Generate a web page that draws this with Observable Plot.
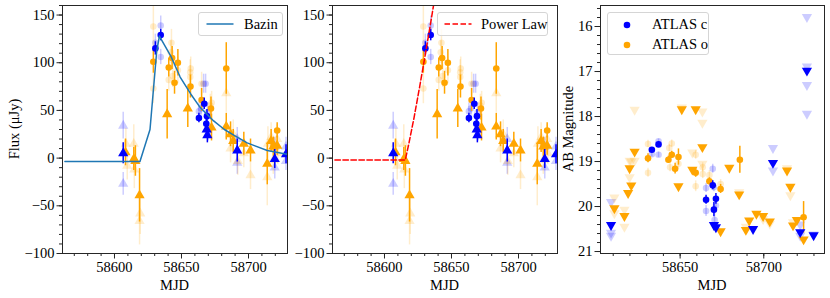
<!DOCTYPE html>
<html><head><meta charset="utf-8">
<script src="https://cdn.jsdelivr.net/npm/d3@7"></script>
<script src="https://cdn.jsdelivr.net/npm/@observablehq/plot@0.6"></script>
<style>
html,body{margin:0;padding:0;background:#fff;overflow:hidden}
#fig{position:relative;width:830px;height:298px;font-family:"Liberation Serif","Times New Roman",serif;font-size:14.5px;color:#000}
#fig .panel{position:absolute;top:0}
.legend{position:absolute;border:1px solid #d5d5d5;border-radius:3px;background:rgba(255,255,255,0.8);box-sizing:border-box}
.lab{position:absolute;white-space:nowrap;line-height:1}
.lt{position:absolute;white-space:nowrap;line-height:1}
</style></head><body><div id="fig"></div>
<script>
// ---------- Flux panels data: [MJD, flux (uJy), error] ----------
const fluxCDet = [[58630.5,115,7],[58634.5,129,6],[58663.0,42,5],[58667.0,57,6],[58668.5,36,8],[58669.0,44,7]];
const fluxCLim = [[58606.5,5,11],[58668.8,30,8],[58669.3,24,8],[58691.6,8,12],[58719.6,-1,10],[58728.0,4,10]];
const fluxCFaintDet = [[58634.5,139,10],[58634.5,106,8],[58630.5,121,9],[58666.5,78,10],[58668.0,78,10],[58663.0,49,9],[58664.5,52,8],[58669.5,48,10],[58670.0,28,10]];
const fluxCFaintLim = [[58606.5,34,14],[58606.5,-27,12],[58691.6,-5,12],[58691.6,20,12],[58719.6,-10,12],[58719.6,12,10],[58728.0,-3,10],[58728.0,12,10]];
const fluxODet = [[58629.0,101,12],[58640.5,95,10],[58643.0,105,12],[58644.8,79,12],[58647.3,100,14],[58656.7,75,12],[58665.0,61,12],[58672.0,52,12],[58683.4,94,27],[58721.4,29,8]];
const fluxOLim = [[58608.2,6,14],[58614.4,-1,12],[58615.6,-3,16],[58618.7,-39,28],[58639.3,46,26],[58654.7,52,20],[58672.4,32,14],[58683.4,33,14],[58686.6,25,13],[58688.6,18,12],[58696.5,15,12],[58701.5,8,12],[58714.0,-6,22],[58716.9,18,12],[58718.5,12,10],[58721.4,13,10]];
const fluxOFaintDet = [[58629.0,138,22],[58629.0,73,16],[58642.5,121,14],[58642.0,111,12],[58643.5,86,12],[58640.5,82,12],[58647.3,92,14],[58656.5,90,13],[58656.5,85,12],[58656.9,94,12],[58665.0,78,12],[58671.5,55,12],[58672.5,58,12]];
const fluxOFaintLim = [[58608.5,15,16],[58609.5,-8,15],[58614.4,15,20],[58614.8,-12,20],[58618.7,-66,25],[58619.2,-58,22],[58683.4,68,20],[58686.6,10,15],[58688.6,25,15],[58692.0,-3,15],[58696.5,5,15],[58701.5,-18,15],[58714.0,-20,30],[58714.5,15,18],[58716.9,22,15],[58718.5,-2,15],[58721.4,20,15],[58721.9,5,12]];

// ---------- Model curves ----------
const bazinMJD  = [58563,58619,58626.5,58631.5,58633.5,58642,58649,58657,58664,58674,58682,58689,58699,58714,58729];
const bazinFlux = [-3.5,-3.5,30,112,128,107,85,67,53,39,30,24,16,8,4];
const powerMJD  = [58563,58615.5,58618,58622,58626,58630,58634,58638];
const powerFlux = [-2,-2,14,42,73,105,138,172];

// ---------- Magnitude panel data: [MJD, mag, error] / [MJD, limit] ----------
const magCDet = [[58633.1,18.74,0.05],[58637.1,18.62,0.05],[58665.5,19.85,0.1],[58669.5,19.53,0.1],[58671.4,19.83,0.12],[58670.2,20.07,0.16]];
const magCLim = [[58608.7,20.41],[58670.2,20.41],[58671.4,20.46],[58693.6,20.5],[58705.5,19.03],[58721.8,20.57],[58725.8,16.98],[58729.8,20.64]];
const magCFaintDet = [[58633.1,18.84,0.06],[58637.1,18.55,0.05],[58637.1,18.85,0.06],[58665.5,19.59,0.1],[58665.5,20.1,0.12],[58669.5,19.16,0.1],[58670.2,19.57,0.1],[58671.4,19.98,0.12],[58670.6,20.3,0.15]];
const magCFaintLim = [[58608.7,19.9],[58608.7,20.58],[58608.7,20.65],[58705.5,18.7],[58705.5,19.2],[58725.8,15.79],[58725.8,16.89],[58725.8,17.3],[58725.8,17.94],[58721.8,20.4],[58721.8,20.65],[58729.8,20.62]];
const magODet = [[58630.8,18.93,0.1],[58643.0,18.96,0.08],[58645.0,18.85,0.08],[58647.0,19.16,0.12],[58649.0,18.9,0.18],[58659.3,19.25,0.1],[58667.5,19.44,0.08],[58674.2,19.61,0.1],[58685.7,18.96,0.3],[58723.8,20.24,0.35]];
const magOLim = [[58610.7,20.04],[58616.7,20.21],[58618.9,19.7],[58619.8,19.15],[58620.8,19.53],[58622.8,18.78],[58649.0,19.55],[58651.0,17.84],[58657.3,19.18],[58659.3,17.84],[58663.3,18.68],[58674.2,20.55],[58679.4,19.14],[58685.3,19.73],[58689.3,20.52],[58691.3,20.31],[58695.6,20.16],[58699.6,20.21],[58703.6,20.33],[58713.9,19.2],[58715.9,19.56],[58717.5,20.42],[58719.8,20.3],[58723.8,20.73]];
const magOFaintDet = [[58630.8,18.61,0.08],[58630.8,19.25,0.1],[58643.5,18.7,0.08],[58645.0,18.6,0.08],[58644.0,19.13,0.1],[58649.0,19.05,0.12],[58659.3,18.85,0.1],[58659.3,19.55,0.12],[58663.5,19.13,0.1],[58663.5,19.28,0.1],[58667.5,19.3,0.1],[58674.2,19.5,0.1]];
const magOFaintLim = [[58610.7,19.8],[58610.7,20.15],[58616.7,20.07],[58616.7,20.45],[58619.8,18.98],[58619.8,19.35],[58620.8,19.0],[58622.8,17.85],[58622.8,18.98],[58651.0,17.8],[58657.3,18.8],[58663.3,17.89],[58663.3,18.14],[58663.3,19.05],[58685.3,19.68],[58689.3,20.45],[58699.6,20.28],[58703.6,20.38],[58713.9,19.15],[58715.9,19.75],[58717.5,20.35]];

// ---------- Axis ticks ----------
const fluxXMajor = [58600,58650,58700];
const fluxXMinor = d3.range(58570,58730,10);
const fluxYMajor = [-100,-50,0,50,100,150];
const fluxYMinor = d3.range(-100,161,10);
const magXMajor = [58650,58700];
const magXMinor = d3.range(58610,58740,10);
const magYMajor = [16,17,18,19,20,21];
const magYMinor = d3.range(15.6,21.01,0.2).map(v => +v.toFixed(1));

const BLUE = "blue", ORANGE = "orange", FADE = 0.2;
const RC = 3.3, RT = 3.8;
const fmt = d => d < 0 ? "\u2212" + Math.abs(d) : String(d);
const X = d => d[0], Y = d => d[1];

function errDots(data, color, op, symbol, r, rotate) {
  return [
    Plot.ruleX(data, {x: X, y1: d => d[1]-d[2], y2: d => d[1]+d[2], stroke: color, strokeOpacity: op, strokeWidth: 1.5, clip: true}),
    Plot.dot(data, {x: X, y: Y, fill: color, fillOpacity: op, stroke: "none", symbol, r, rotate, clip: true})
  ];
}
function dots(data, color, op, symbol, r, rotate) {
  return Plot.dot(data, {x: X, y: Y, fill: color, fillOpacity: op, stroke: "none", symbol, r, rotate, clip: true});
}

function panel({left, width, ml, mr, xdom, ydom, xMajor, xMinor, yMajor, yMinor, marks}) {
  const svg = Plot.plot({
    width, height: 298, marginLeft: ml, marginRight: mr, marginTop: 5, marginBottom: 45,
    x: {domain: xdom}, y: {domain: ydom},
    style: {fontFamily: '"Liberation Serif","Times New Roman",serif', fontSize: "14.5px", background: "transparent", color: "#000", overflow: "visible"},
    marks: [
      ...marks,
      Plot.frame({stroke: "#262626", strokeWidth: 1}),
      Plot.axisX({ticks: xMinor, tickSize: 3, tickFormat: () => "", label: null, stroke: "#262626"}),
      Plot.axisX({ticks: xMajor, tickSize: 5.5, tickPadding: 2.5, tickFormat: d => String(d), label: null, stroke: "#262626", fill: "#000"}),
      Plot.axisY({ticks: yMinor, tickSize: 3, tickFormat: () => "", label: null, stroke: "#262626"}),
      Plot.axisY({ticks: yMajor, tickSize: 5.5, tickPadding: 2.5, tickFormat: fmt, label: null, stroke: "#262626", fill: "#000"})
    ]
  });
  svg.classList.add("panel");
  svg.style.left = left + "px";
  return svg;
}

function fluxMarks() {
  return [
    ...errDots(fluxCFaintDet, BLUE, FADE, "circle", RC),
    ...errDots(fluxCFaintLim, BLUE, FADE, "triangle", RT),
    ...errDots(fluxOFaintDet, ORANGE, FADE, "circle", RC),
    ...errDots(fluxOFaintLim, ORANGE, FADE, "triangle", RT),
    ...errDots(fluxODet, ORANGE, 1, "circle", RC),
    ...errDots(fluxOLim, ORANGE, 1, "triangle", RT),
    ...errDots(fluxCDet, BLUE, 1, "circle", RC),
    ...errDots(fluxCLim, BLUE, 1, "triangle", RT)
  ];
}

const fig = document.getElementById("fig");
const fluxXDom = [58561.2, 58729.1];
const fluxYDom = [-100, 160];

fig.appendChild(panel({
  left: 0, width: 290, ml: 62, mr: 3, xdom: fluxXDom, ydom: fluxYDom,
  xMajor: fluxXMajor, xMinor: fluxXMinor, yMajor: fluxYMajor, yMinor: fluxYMinor,
  marks: [
    ...fluxMarks(),
    Plot.line(bazinMJD.map((m, i) => [m, bazinFlux[i]]), {x: X, y: Y, stroke: "#1f77b4", strokeWidth: 1.5, clip: true})
  ]
}));

fig.appendChild(panel({
  left: 290, width: 270, ml: 42, mr: 3, xdom: fluxXDom, ydom: fluxYDom,
  xMajor: fluxXMajor, xMinor: fluxXMinor, yMajor: fluxYMajor, yMinor: fluxYMinor,
  marks: [
    ...fluxMarks(),
    Plot.line(powerMJD.map((m, i) => [m, powerFlux[i]]), {x: X, y: Y, stroke: "red", strokeWidth: 1.5, strokeDasharray: "5.5,2.5", clip: true})
  ]
}));

fig.appendChild(panel({
  left: 560, width: 270, ml: 40, mr: 6, xdom: [58602.4, 58736.3], ydom: [21.044, 15.533],
  xMajor: magXMajor, xMinor: magXMinor, yMajor: magYMajor, yMinor: magYMinor,
  marks: [
    ...errDots(magCFaintDet, BLUE, FADE, "circle", RC),
    dots(magCFaintLim, BLUE, FADE, "triangle", RT, 180),
    ...errDots(magOFaintDet, ORANGE, FADE, "circle", RC),
    dots(magOFaintLim, ORANGE, FADE, "triangle", RT, 180),
    ...errDots(magODet, ORANGE, 1, "circle", RC),
    dots(magOLim, ORANGE, 1, "triangle", RT, 180),
    ...errDots(magCDet, BLUE, 1, "circle", RC),
    dots(magCLim, BLUE, 1, "triangle", RT, 180)
  ]
}));

// ---------- Labels ----------
function addLabel(text, x, y, rotate) {
  const d = document.createElement("div");
  d.className = "lab";
  d.textContent = text;
  d.style.left = x + "px";
  d.style.top = y + "px";
  d.style.transform = "translate(-50%,-50%)" + (rotate ? " rotate(-90deg)" : "");
  fig.appendChild(d);
}
addLabel("MJD", 174.5, 285, false);
addLabel("MJD", 444.5, 285, false);
addLabel("MJD", 712, 285, false);
addLabel("Flux (\u03bcJy)", 13.5, 129, true);
addLabel("AB Magnitude", 567.5, 129, true);

// ---------- Legends ----------
function legend(left, top, w, h, items) {
  const box = document.createElement("div");
  box.className = "legend";
  Object.assign(box.style, {left: left + "px", top: top + "px", width: w + "px", height: h + "px"});
  items.forEach(it => {
    const s = document.createElementNS("http://www.w3.org/2000/svg", "svg");
    s.setAttribute("width", 30); s.setAttribute("height", 10);
    Object.assign(s.style, {position: "absolute", left: (it.sx - 15) + "px", top: (it.y - 5) + "px"});
    if (it.kind === "line") {
      const l = document.createElementNS("http://www.w3.org/2000/svg", "line");
      l.setAttribute("x1", 15 - it.half); l.setAttribute("x2", 15 + it.half);
      l.setAttribute("y1", 5); l.setAttribute("y2", 5);
      l.setAttribute("stroke", it.color); l.setAttribute("stroke-width", 1.5);
      if (it.dash) l.setAttribute("stroke-dasharray", it.dash);
      s.appendChild(l);
    } else {
      const c = document.createElementNS("http://www.w3.org/2000/svg", "circle");
      c.setAttribute("cx", 15); c.setAttribute("cy", 5); c.setAttribute("r", 3.3);
      c.setAttribute("fill", it.color);
      s.appendChild(c);
    }
    box.appendChild(s);
    const t = document.createElement("div");
    t.className = "lt";
    t.textContent = it.label;
    Object.assign(t.style, {left: it.tx + "px", top: (it.y - 7.5) + "px"});
    box.appendChild(t);
  });
  fig.appendChild(box);
}
legend(198, 12, 85, 24, [{kind: "line", color: "#1f77b4", sx: 20.5, half: 13.5, y: 11, tx: 45, label: "Bazin"}]);
legend(437, 12, 111, 24, [{kind: "line", color: "red", dash: "5.5,2.5", sx: 20, half: 13.5, y: 11, tx: 43, label: "Power Law"}]);
legend(607, 12, 102, 43, [
  {kind: "dot", color: BLUE, sx: 19, y: 11.5, tx: 44, label: "ATLAS c"},
  {kind: "dot", color: ORANGE, sx: 19, y: 31.5, tx: 44, label: "ATLAS o"}
]);
</script></body></html>
